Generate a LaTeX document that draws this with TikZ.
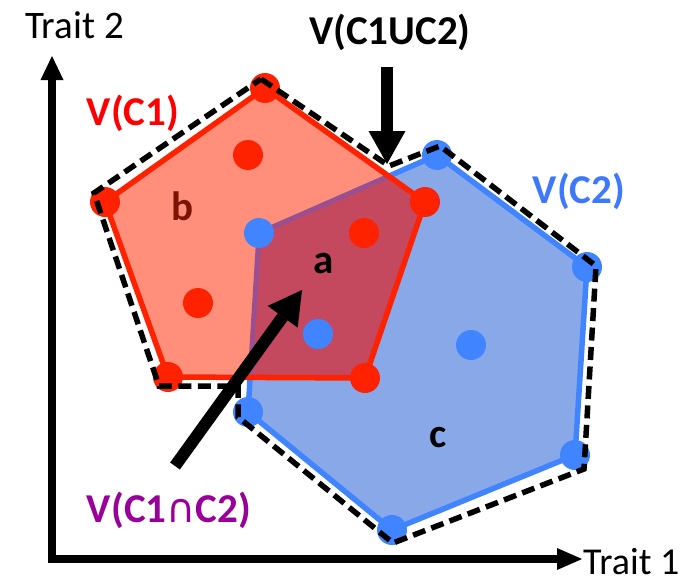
\documentclass[tikz,border=0pt]{standalone}
\usepackage{fontspec}
\setmainfont{Carlito}
\newfontfamily\djv{DejaVu Sans}
\usetikzlibrary{arrows.meta}
\definecolor{salmonfill}{HTML}{FF8E7A}
\definecolor{interfill}{HTML}{C4485E}
\definecolor{bluefill}{HTML}{88A8E8}
\definecolor{reddot}{HTML}{FF2200}
\definecolor{bluedot}{HTML}{4085FF}
\definecolor{bluelab}{HTML}{3D78FF}
\definecolor{purplelab}{HTML}{990099}
\definecolor{purpleedge}{HTML}{9A5090}
\definecolor{darkredlab}{HTML}{7A1400}
\tikzset{
  lab/.style={anchor=base, inner sep=0pt, font=\fontsize{41}{48}\selectfont\bfseries},
  axislab/.style={anchor=base, inner sep=0pt, font=\fontsize{39}{46}\selectfont},
  dot/.style={circle, inner sep=0pt, minimum size=30pt},
  rdot/.style={dot, fill=reddot},
  bdot/.style={dot, fill=bluedot},
  redline/.style={draw=reddot, line width=5.5pt, line join=round},
  blueline/.style={draw=bluedot, line width=5.5pt, line join=round},
  hull/.style={draw=black, line width=5.5pt, dash pattern=on 13pt off 6.5pt, line join=miter},
  bigarrow/.style={line width=12pt, -{Triangle[length=33pt,width=37pt,line width=0pt]}},
}
\begin{document}
\begin{tikzpicture}[x=1pt,y=-1pt]
\useasboundingbox (0,0) rectangle (695,586);
% vertices of V(C1)
\coordinate (r1) at (265,88);
\coordinate (r2) at (425,202);
\coordinate (r3) at (365,378);
\coordinate (r4) at (168,377);
\coordinate (r5) at (105,202);
% vertices of V(C2)
\coordinate (b1) at (437,155);
\coordinate (b2) at (587,267);
\coordinate (b3) at (575,455);
\coordinate (b4) at (392,530);
\coordinate (b5) at (248,412);
\coordinate (b6) at (259,233);
% hull corners
\coordinate (h1) at (261,79);
\coordinate (h2) at (389,166);
\coordinate (h3) at (440,146);
\coordinate (h4) at (596,266);
\coordinate (h5) at (584,469);
\coordinate (h6) at (393,543);
\coordinate (h7) at (238,417);
\coordinate (h8) at (238,386);
\coordinate (h9) at (159,386);
\coordinate (h10) at (94,193);

% fills
\fill[bluefill] (b1) -- (b2) -- (b3) -- (b4) -- (b5) -- (b6) -- cycle;
\path[blueline] (b1) -- (b2) -- (b3) -- (b4) -- (b5) -- (b6) -- cycle;
\fill[salmonfill] (r1) -- (r2) -- (r3) -- (r4) -- (r5) -- cycle;
\begin{scope}
  \clip (b1) -- (b2) -- (b3) -- (b4) -- (b5) -- (b6) -- cycle;
  \fill[interfill] (r1) -- (r2) -- (r3) -- (r4) -- (r5) -- cycle;
\end{scope}
\begin{scope}
  \clip (r1) -- (r2) -- (r3) -- (r4) -- (r5) -- cycle;
  \draw[purpleedge, line width=5pt, line join=round] (b1) -- (b2) -- (b3) -- (b4) -- (b5) -- (b6) -- cycle;
\end{scope}
\path[redline] (r1) -- (r2) -- (r3) -- (r4) -- (r5) -- cycle;

% points
\node[rdot] (p1) at (r1) {};
\node[rdot] (p2) at (r2) {};
\node[rdot] (p3) at (r3) {};
\node[rdot] (p4) at (r4) {};
\node[rdot] (p5) at (r5) {};
\node[rdot] (p6) at (248,155) {};
\node[rdot] (p7) at (364,233) {};
\node[rdot] (p8) at (198,303) {};
\node[bdot] (q1) at (b1) {};
\node[bdot] (q2) at (b2) {};
\node[bdot] (q3) at (b3) {};
\node[bdot] (q4) at (b4) {};
\node[bdot] (q5) at (b5) {};
\node[bdot] (q6) at (b6) {};
\node[bdot] (q7) at (318,334) {};
\node[bdot] (q8) at (471,345) {};

% union hull
\path[hull] (h1) -- (h2) -- (h3) -- (h4) -- (h5) -- (h6) -- (h7) -- (h8) -- (h9) -- (h10) -- cycle;

% axes
\coordinate (o) at (52,559);
\coordinate (ytip) at (52,56);
\coordinate (xtip) at (582,559);
\draw[line width=8pt, line join=miter,
  {Triangle[length=24pt,width=23pt,line width=0pt]}-{Triangle[length=25pt,width=22pt,line width=0pt]}]
  (ytip) -- (o) -- (xtip);

% labels
\node[axislab] (t2) at (74.5,38) {Trait 2};
\node[axislab, anchor=base west, font=\fontsize{38}{44}\selectfont] (t1) at (583,574) {Trait 1};
\node[lab] (lu) at (390,45) {V(C1UC2)};
\node[lab, text=red] (l1) at (133,125) {V(C1)};
\node[lab, text=bluelab] (l2) at (579,203) {V(C2)};
\node[lab, text=purplelab] (li) at (169,522) {V(C1{\fontsize{40}{40}\selectfont\mdseries\djv ∩}C2)};
\node[lab, text=darkredlab] (lb) at (182,220) {b};
\node[lab] (la) at (324,273) {a};
\node[lab] (lc) at (438,447) {c};

% pointer arrows
\coordinate (u0) at (387,67);
\coordinate (u1) at (387,164);
\draw[bigarrow] (u0) -- (u1);
\coordinate (d0) at (175,466);
\coordinate (d1) at (302,290);
\draw[bigarrow] (d0) -- (d1);
\end{tikzpicture}
\end{document}
